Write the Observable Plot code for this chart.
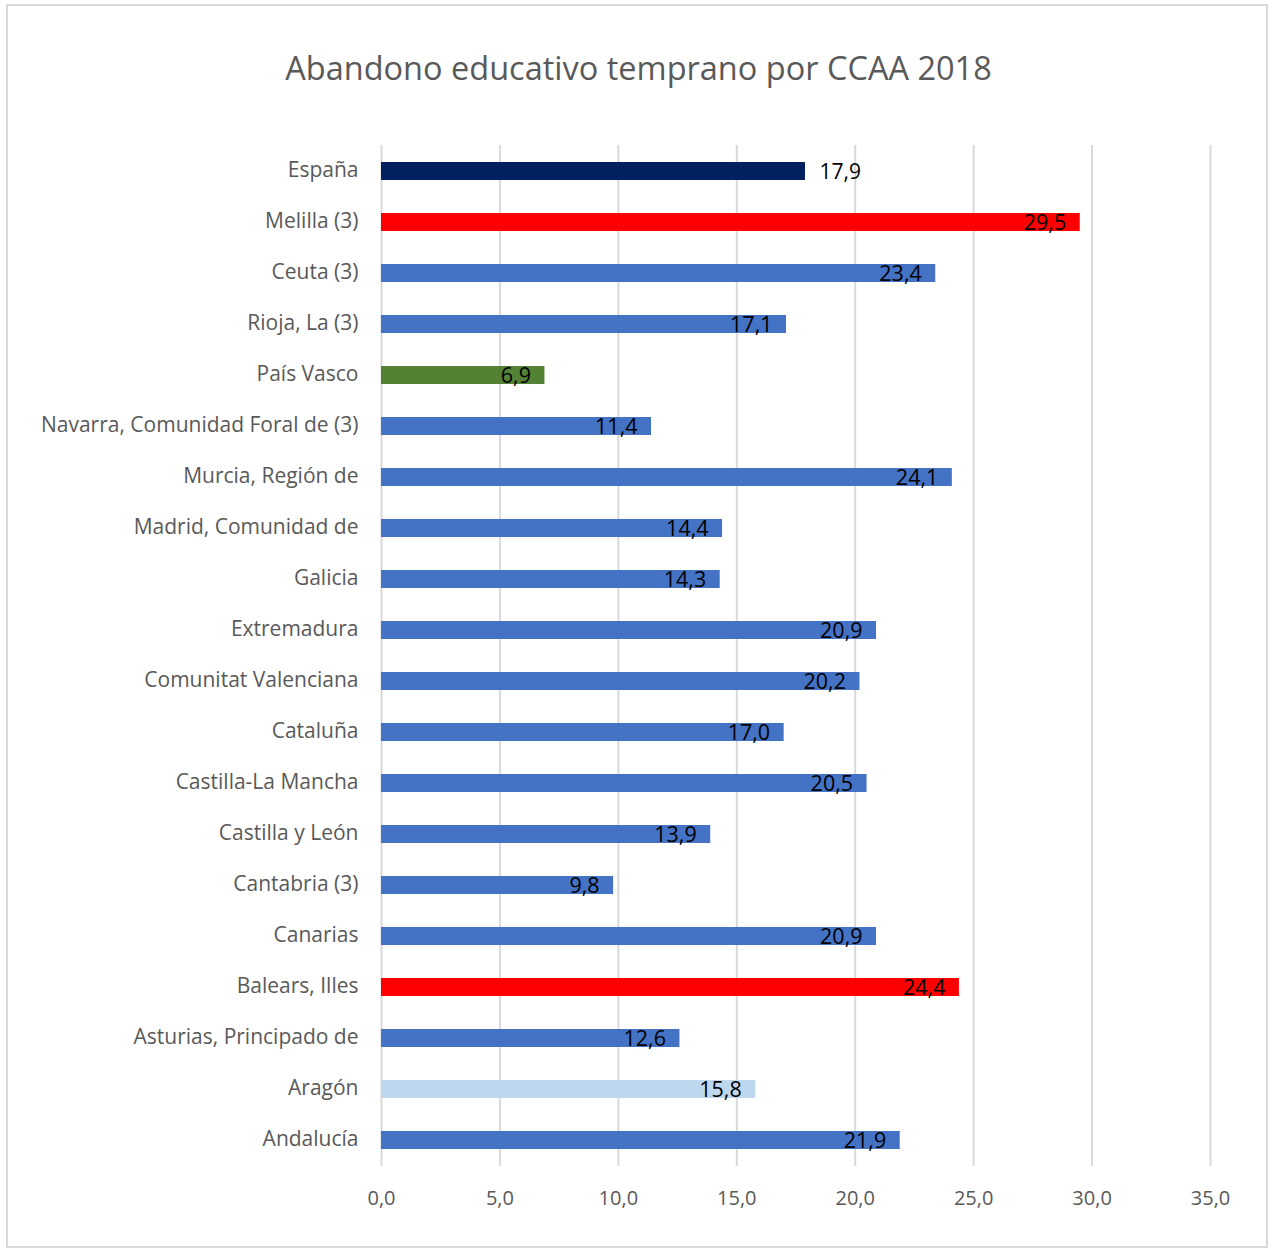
<!DOCTYPE html>
<html>
<head>
<meta charset="utf-8">
<script src="https://cdn.jsdelivr.net/npm/d3@7"></script>
<script src="https://cdn.jsdelivr.net/npm/@observablehq/plot@0.6"></script>
<style>
  html, body { margin: 0; padding: 0; background: #fff; }
  #page { position: relative; width: 1277px; height: 1255px; overflow: hidden; }
  #frame { position: absolute; left: 6px; top: 4px; width: 1262px; height: 1244px; border: 2px solid #d9d9d9; box-sizing: border-box; }
  #title { position: absolute; left: 0; width: 1277px; top: 46px; text-align: center;
           font-family: "Open Sans", sans-serif; font-size: 32.5px; color: #595959; line-height: 44px; }
  #chart { position: absolute; left: 0; top: 0; }
</style>
</head>
<body>
<div id="page">
  <div id="frame"></div>
  <div id="title">Abandono educativo temprano por CCAA 2018</div>
  <div id="chart"></div>
</div>
<script>
const regions = [
  "España", "Melilla (3)", "Ceuta (3)", "Rioja, La (3)", "País Vasco",
  "Navarra, Comunidad Foral de (3)", "Murcia, Región de", "Madrid, Comunidad de",
  "Galicia", "Extremadura", "Comunitat Valenciana", "Cataluña", "Castilla-La Mancha",
  "Castilla y León", "Cantabria (3)", "Canarias", "Balears, Illes",
  "Asturias, Principado de", "Aragón", "Andalucía"
];
const rates = [
  17.9, 29.5, 23.4, 17.1, 6.9,
  11.4, 24.1, 14.4,
  14.3, 20.9, 20.2, 17.0, 20.5,
  13.9, 9.8, 20.9, 24.4,
  12.6, 15.8, 21.9
];
const groups = [
  "total", "alto", "resto", "resto", "bajo",
  "resto", "resto", "resto",
  "resto", "resto", "resto", "resto", "resto",
  "resto", "resto", "resto", "alto",
  "resto", "referencia", "resto"
];
const xTicks = [0, 5, 10, 15, 20, 25, 30, 35];

const data = regions.map((r, i) => ({region: r, value: rates[i], group: groups[i]}));
const fmt = v => v.toFixed(1).replace(".", ",");

const chart = Plot.plot({
  width: 1277,
  height: 1255,
  marginLeft: 381,
  marginRight: 67,
  marginTop: 145,
  marginBottom: 89,
  style: { fontFamily: "'Open Sans', sans-serif", background: "transparent", overflow: "visible" },
  x: { domain: [0, 35], ticks: xTicks, tickFormat: fmt, label: null },
  y: { domain: regions, paddingInner: 0.648, paddingOuter: 0.314, label: null },
  color: {
    domain: ["total", "alto", "bajo", "referencia", "resto"],
    range: ["#002060", "#ff0000", "#548235", "#bdd7ee", "#4472c4"]
  },
  marks: [
    Plot.gridX(xTicks, { stroke: "#d9d9d9", strokeOpacity: 1, strokeWidth: 2 }),
    Plot.axisX({ ticks: xTicks, tickFormat: fmt, tickSize: 0, tickPadding: 24, fontSize: 20, color: "#595959", label: null }),
    Plot.axisY({ tickSize: 0, tickPadding: 23, fontSize: 21, dy: -1, color: "#595959", label: null }),
    Plot.barX(data, { x: "value", y: "region", fill: "group" }),
    Plot.text(data.filter(d => d.group === "total"), {
      x: "value", y: "region", text: d => fmt(d.value),
      textAnchor: "start", dx: 14, dy: 1, fontSize: 21, fill: "#000"
    }),
    Plot.text(data.filter(d => d.group !== "total"), {
      x: "value", y: "region", text: d => fmt(d.value),
      textAnchor: "end", dx: -14, dy: 1, fontSize: 21.5, fill: "#000"
    })
  ]
});
document.getElementById("chart").appendChild(chart);
</script>
</body>
</html>
